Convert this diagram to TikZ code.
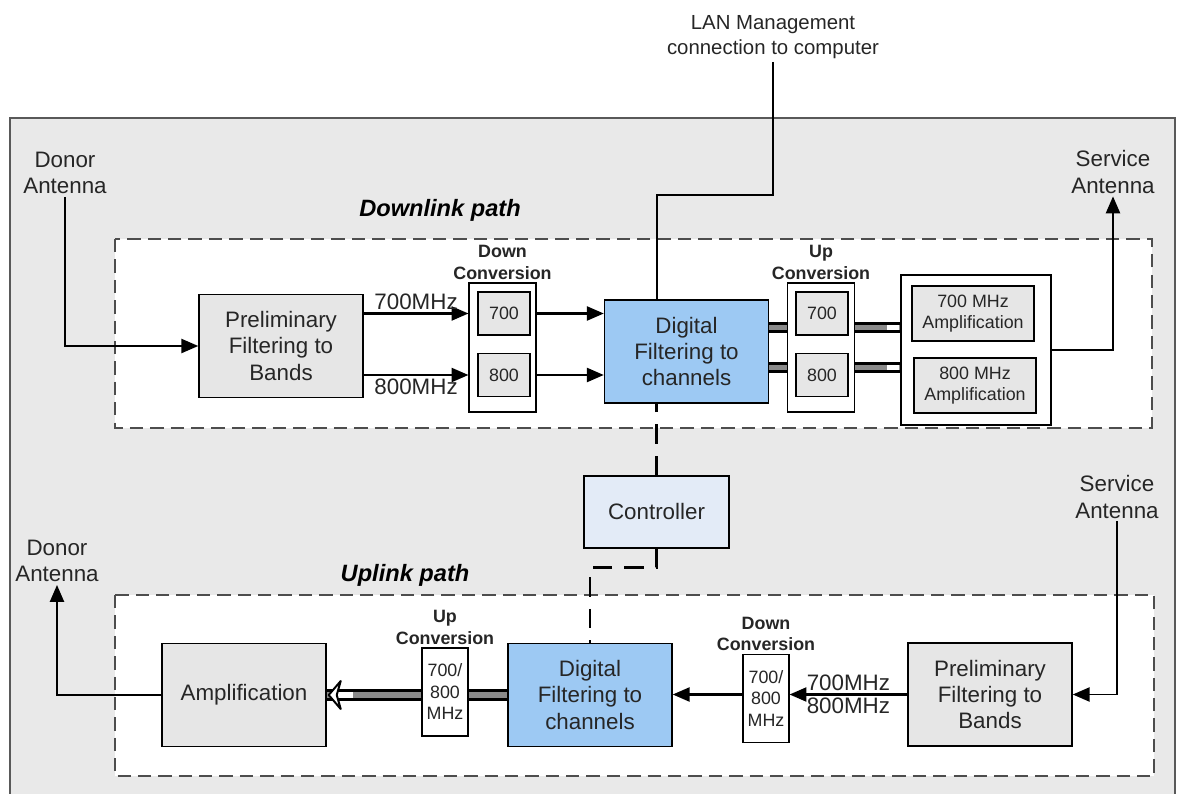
\documentclass[tikz,border=0pt]{standalone}
\usepackage{fontspec}
\setmainfont{Liberation Sans}
\usetikzlibrary{arrows.meta, positioning, calc}
\definecolor{bggray}{HTML}{E9E9E9}
\definecolor{boxgray}{HTML}{E6E6E6}
\definecolor{dspblue}{HTML}{9DC9F3}
\definecolor{ctrlblue}{HTML}{E3EBF7}
\definecolor{pipegray}{HTML}{8A8A8A}
\definecolor{dashgray}{HTML}{4D4D4D}
\newcommand{\mainsz}{\fontsize{15.9}{18.6}\selectfont}
\newcommand{\smallsz}{\fontsize{12.7}{15.3}\selectfont}
\newcommand{\lansz}{\fontsize{14.5}{18}\selectfont}
\newcommand{\pathsz}{\fontsize{16.8}{20}\selectfont}
\tikzset{
    bigbox/.style={rectangle, draw, fill=boxgray, line width=1pt, minimum width=4.1cm,
                   minimum height=2.575cm, align=center, font=\mainsz, text=black!85},
    dspbox/.style={bigbox, fill=dspblue},
    ctrlbox/.style={bigbox, fill=ctrlblue, minimum width=3.625cm, minimum height=1.8cm},
    convframe/.style={rectangle, draw, fill=white, line width=0.8pt, minimum width=1.675cm,
                      minimum height=3.225cm},
    ampframe/.style={rectangle, draw, fill=white, line width=0.8pt, minimum width=3.75cm,
                     minimum height=3.75cm},
    bandbox/.style={rectangle, draw, fill=boxgray, line width=0.8pt, minimum width=1.3cm,
                    minimum height=1.075cm, font=\smallsz, text=black!85},
    ampbox/.style={bandbox, minimum width=3.05cm, minimum height=1.375cm, align=center},
    convbox/.style={rectangle, draw, fill=white, line width=0.8pt, minimum width=1.15cm,
                    minimum height=2.2cm, align=center, font=\smallsz, inner sep=1pt, text=black!85},
    convlbl/.style={align=center, font=\smallsz\bfseries, inner sep=1pt, text=black!85},
    pathlbl/.style={font=\pathsz\bfseries\itshape},
    antlbl/.style={align=center, font=\mainsz, inner sep=2pt, text=black!85},
    freqlbl/.style={font=\mainsz, inner sep=2pt, text=black!85},
    pathframe/.style={draw=dashgray, fill=white, line width=1.4pt, dash pattern=on 9.5pt off 5pt},
    sig/.style={line width=1.5pt, -{Triangle[length=12pt, width=10pt]}},
    wire/.style={line width=1.4pt},
    pipe/.style={draw=black, line width=2pt, double=pipegray, double distance=4pt},
    ctrllink/.style={line width=2pt, dash pattern=on 14pt off 8.5pt},
}
\begin{document}
\begin{tikzpicture}[x=0.025cm, y=-0.025cm]
    \useasboundingbox (0,0) rectangle (1178,794);

    % repeater housing
    \draw[fill=bggray, draw=black!65, line width=1.2pt] (10,118) rectangle (1175,830);
    \draw[pathframe] (115,239) rectangle (1152,428);
    \draw[pathframe] (115,595) rectangle (1154,776);

    % -- LABELS --
    \node[antlbl, font=\lansz] (lan) at (773,37) {LAN Management\\connection to computer};
    \node[antlbl] (donordn) at (65,173) {Donor\\Antenna};
    \node[antlbl] (svcdn) at (1113,172) {Service\\Antenna};
    \node[antlbl] (donorup) at (57,561) {Donor\\Antenna};
    \node[antlbl] (svcup) at (1117,497) {Service\\Antenna};
    \node[pathlbl] (dlpath) at (440,210) {Downlink path};
    \node[pathlbl] (ulpath) at (405,575) {Uplink path};

    % -- DOWNLINK PATH --
    \node[bigbox] (prelimdn) at (281,346) {Preliminary\\Filtering to\\Bands};
    \node[convframe] (dcdn) at (502.5,347.5) {};
    \node[bandbox] (dc700) at (504,313.5) {700};
    \node[bandbox] (dc800) at (504,375) {800};
    \node[convlbl, above=1pt of dcdn] (dcdnlbl) {Down\\Conversion};
    \node[dspbox] (dfdn) at (686.5,351.5) {Digital\\Filtering to\\channels};
    \node[convframe] (ucdn) at (821,347.5) {};
    \node[bandbox] (uc700) at (822,313.5) {700};
    \node[bandbox] (uc800) at (822,375) {800};
    \node[convlbl, above=1pt of ucdn] (ucdnlbl) {Up\\Conversion};
    \node[ampframe] (ampdn) at (976,350) {};
    \node[ampbox] (amp700) at (973,313.5) {700 MHz\\Amplification};
    \node[ampbox] (amp800) at (975,385.5) {800 MHz\\Amplification};

    % -- CONTROLLER --
    \node[ctrlbox] (ctrl) at (656.5,512) {Controller};

    % -- UPLINK PATH --
    \node[bigbox] (prelimup) at (990,694.5) {Preliminary\\Filtering to\\Bands};
    \node[convbox] (dcup) at (766,698.5) {700/\\800\\MHz};
    \node[convlbl, above=1pt of dcup] (dcuplbl) {Down\\Conversion};
    \node[dspbox] (dfup) at (590,695) {Digital\\Filtering to\\channels};
    \node[convbox] (ucup) at (445,692) {700/\\800\\MHz};
    \node[convlbl, above=1pt of ucup] (ucuplbl) {Up\\Conversion};
    \node[bigbox] (ampup) at (244,695) {Amplification};

    % -- CONNECTIONS --
    \coordinate (lanbend) at (657,195);
    \draw[wire] (lan.south) |- (lanbend) -- (lanbend |- dfdn.north);
    \draw[wire, -{Triangle[length=12pt, width=10pt]}] (donordn.south) |- (prelimdn.west);
    \draw[sig] (prelimdn.east |- dc700) -- (dcdn.west |- dc700)
        node[freqlbl, midway, above] {700MHz};
    \draw[sig] (prelimdn.east |- dc800) -- (dcdn.west |- dc800)
        node[freqlbl, midway, below] {800MHz};
    \draw[sig] (dcdn.east |- dc700) -- (dfdn.west |- dc700);
    \draw[sig] (dcdn.east |- dc800) -- (dfdn.west |- dc800);

    \coordinate (p7) at ([yshift=0.5cm]ucdn.west);
    \coordinate (p8) at ([yshift=-0.5cm]ucdn.west);
    \draw[pipe] (dfdn.east |- p7) -- (p7);
    \draw[pipe] (dfdn.east |- p8) -- (p8);
    \draw[pipe] (ucdn.east |- p7) -- (ampdn.west |- p7);
    \draw[pipe] (ucdn.east |- p8) -- (ampdn.west |- p8);
    \draw[white, line width=4pt] ($(ampdn.west |- p7)+(-13,0)$) -- ($(ampdn.west |- p7)+(-1,0)$);
    \draw[white, line width=4pt] ($(ampdn.west |- p8)+(-13,0)$) -- ($(ampdn.west |- p8)+(-1,0)$);
    \draw[wire, -{Triangle[length=12pt, width=10pt]}] (ampdn.east) -| (svcdn.south);

    \draw[ctrllink] (ctrl.north) -- (ctrl.north |- dfdn.south);
    \draw[ctrllink] (ctrl.south) -- ++(0,19) -| (dfup.north);

    \draw[wire, -{Triangle[length=12pt, width=10pt]}] (svcup.south) |- (prelimup.east);
    \draw[sig] (prelimup.west) -- (dcup.east |- prelimup.west)
        node[freqlbl, midway, above] {700MHz}
        node[freqlbl, midway, below] {800MHz};
    \draw[sig] (dcup.west |- prelimup.west) -- (dfup.east |- prelimup.west);
    \draw[pipe] (dfup.west) -- (ucup.east |- dfup.west);
    \draw[pipe] (ucup.west |- ampup.east) -- (ampup.east);
    \draw[white, line width=4pt] ($(ampup.east)+(26,0)$) -- ($(ampup.east)+(6,0)$);
    \draw[fill=white, line width=1.4pt, line join=round]
        ($(ampup.east)+(2,0)$) -- ++(12,-14) -- ++(-4,14) -- ++(4,14) -- cycle;
    \draw[wire, -{Triangle[length=12pt, width=10pt]}] (ampup.west) -| (donorup.south);
\end{tikzpicture}
\end{document}
